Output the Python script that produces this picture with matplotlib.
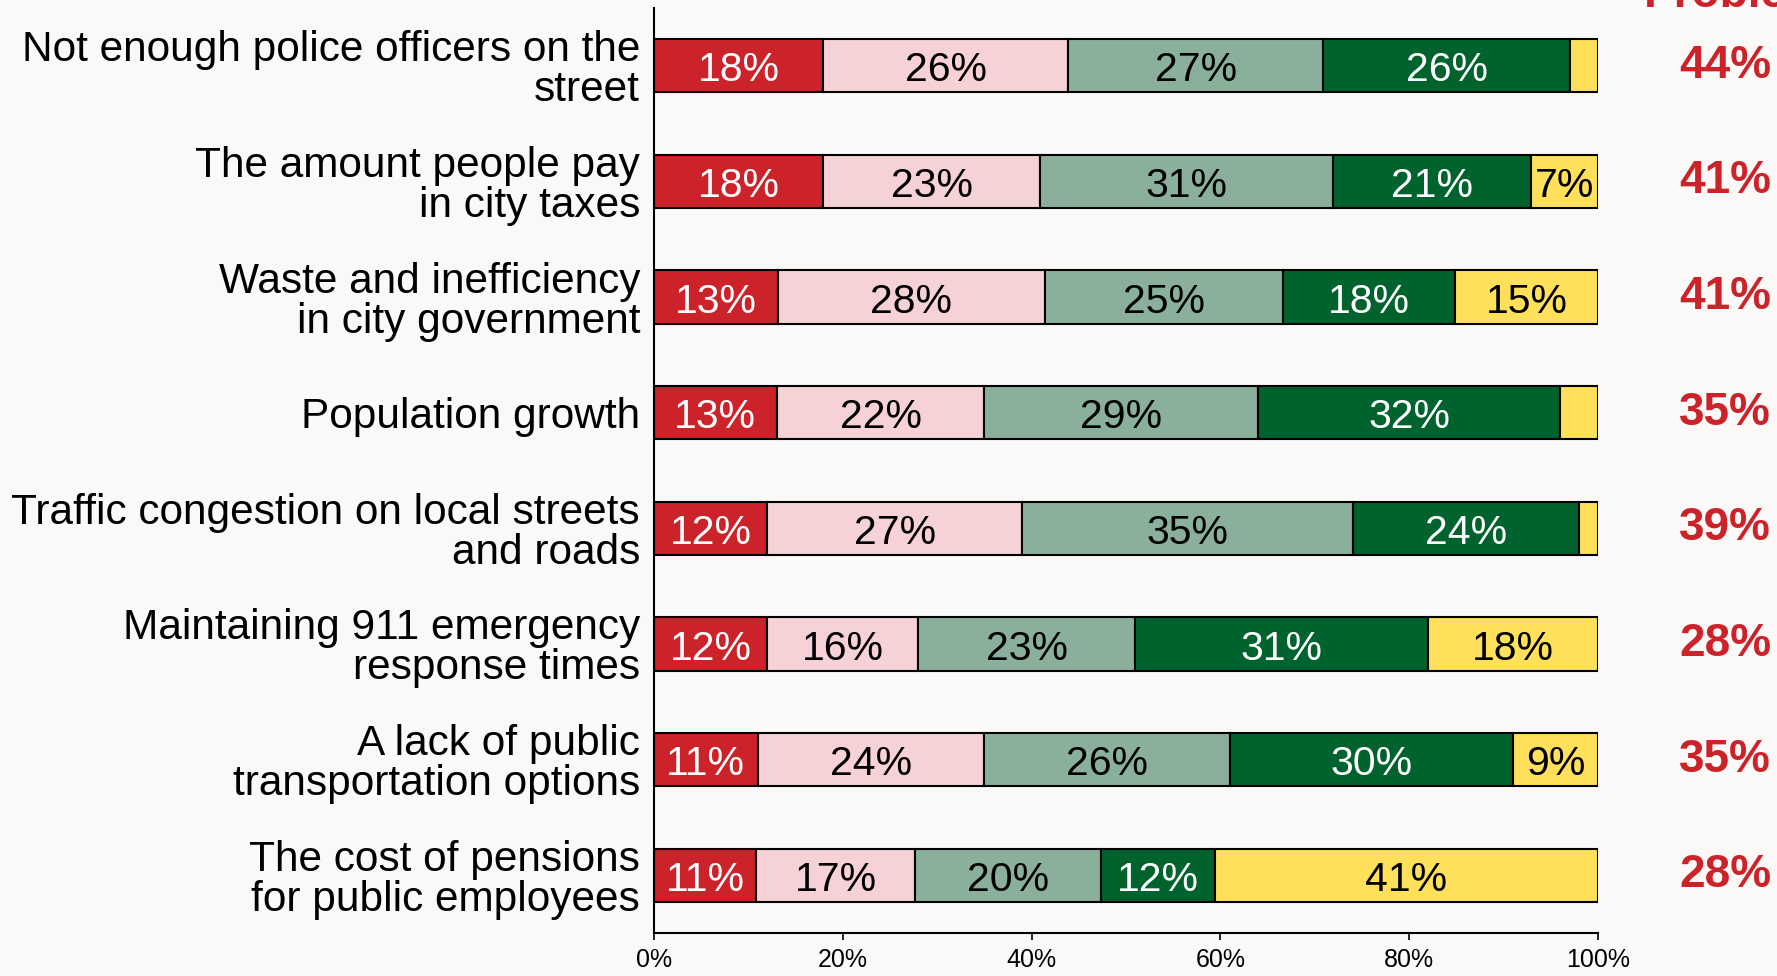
import matplotlib
matplotlib.use("Agg")
import matplotlib.pyplot as plt

plt.rcParams["font.family"] = ["Liberation Sans", "DejaVu Sans"]

# --------------------------------------------------------------- data
categories = [
    "Not enough police officers on the\nstreet",
    "The amount people pay\nin city taxes",
    "Waste and inefficiency\nin city government",
    "Population growth",
    "Traffic congestion on local streets\nand roads",
    "Maintaining 911 emergency\nresponse times",
    "A lack of public\ntransportation options",
    "The cost of pensions\nfor public employees",
]
# segment shares (%), left to right
seg_major = [17.9, 17.9, 13.1, 13.0, 12.0, 12.0, 11.0, 10.8]
seg_minor = [26.0, 23.0, 28.3, 22.0, 27.0, 16.0, 24.0, 16.9]
seg_not_much = [27.0, 31.0, 25.2, 29.0, 35.0, 23.0, 26.0, 19.7]
seg_not = [26.1, 21.0, 18.3, 32.0, 24.0, 31.0, 30.0, 12.0]
seg_dk = [3.0, 7.1, 15.1, 4.0, 2.0, 18.0, 9.0, 40.6]
net_problem = [44, 41, 41, 35, 39, 28, 35, 28]

series = [seg_major, seg_minor, seg_not_much, seg_not, seg_dk]
colors = ["#CC2229", "#F6D1D6", "#8AB09B", "#00632E", "#FFE05A"]
text_colors = ["white", "black", "black", "white", "black"]
BG = "#FAF9F7"
RED = "#CC2229"

# ------------------------------------------------------------- figure
fig = plt.figure(figsize=(17.77, 9.76), dpi=100, facecolor=BG)
ax = fig.add_axes([0.368, 0.0441, 0.5313, 0.9477])
ax.set_facecolor(BG)

ypos = list(range(len(categories)))
left = [0.0] * len(categories)
for vals, col, tcol in zip(series, colors, text_colors):
    ax.barh(ypos, vals, left=left, height=0.46, color=col,
            edgecolor="black", linewidth=1.5)
    for y, l, v in zip(ypos, left, vals):
        if v >= 5:
            ax.text(l + v / 2, y + 0.04, f"{round(v)}%", ha="center",
                    va="center", fontsize=29.5, color=tcol)
    left = [a + b for a, b in zip(left, vals)]

# net "problem" column
for y, v in zip(ypos, net_problem):
    ax.text(1.1345, y, f"{v}%", transform=ax.get_yaxis_transform(),
            ha="center", va="center", fontsize=33, fontweight="bold",
            color=RED)
fig.text(0.977, 1 - 7 / 976, "Problem", ha="center", va="baseline",
         fontsize=33, fontweight="bold", color=RED)

ax.set_xlim(0, 100)
ax.set_ylim(len(categories) - 0.5, -0.5)
ax.set_xticks([0, 20, 40, 60, 80, 100])
ax.set_xticklabels(["0%", "20%", "40%", "60%", "80%", "100%"], fontsize=18)
ax.set_yticks(ypos)
ax.set_yticklabels(categories, fontsize=30.5, linespacing=1.0)
ax.tick_params(axis="y", length=0, pad=10)
ax.tick_params(axis="x", direction="out", length=5, width=1.2, pad=6)
for s in ["top", "right"]:
    ax.spines[s].set_visible(False)
ax.spines["left"].set_linewidth(1.5)
ax.spines["bottom"].set_linewidth(1.5)

fig.savefig("out.png", dpi=100, facecolor=BG)
